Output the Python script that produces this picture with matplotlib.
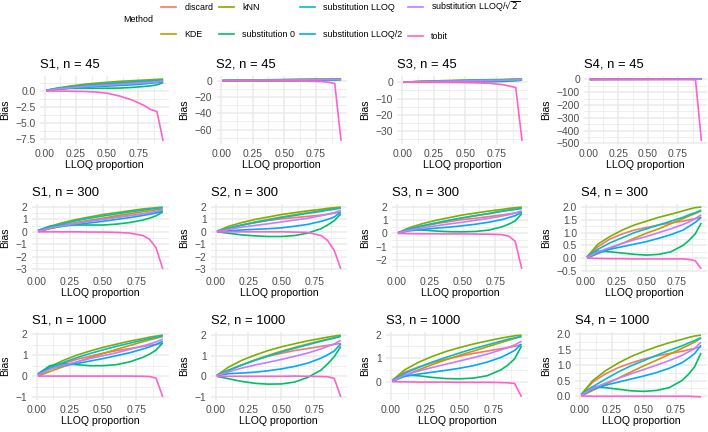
import matplotlib
matplotlib.use("Agg")
import matplotlib.pyplot as plt
from matplotlib.lines import Line2D

plt.rcParams['font.family'] = ['Liberation Sans', 'DejaVu Sans']

# methods in legend order and ggplot hue colours
methods = ['discard', 'KDE', 'kNN', 'substitution 0', 'substitution LLOQ',
           'substitution LLOQ/2', r'substitution LLOQ/$\sqrt{2}$', 'tobit']
colors = ['#F8766D', '#CD9600', '#7CAE00', '#00BE67', '#00BFC4',
          '#00A9FF', '#C77CFF', '#FF61CC']

lloq = [0.01, 0.1, 0.2, 0.3, 0.4, 0.5, 0.6, 0.7, 0.8, 0.85, 0.9, 0.95]

# bias per method (rows in the order of `methods`)
s1_n45 = [
    [0.05, 0.3, 0.5, 0.7, 0.85, 1.0, 1.1, 1.2, 1.3, 1.35, 1.4, 1.5],
    [0.0, 0.25, 0.45, 0.65, 0.85, 1.0, 1.15, 1.3, 1.45, 1.5, 1.55, 1.6],
    [0.1, 0.45, 0.75, 1.0, 1.2, 1.35, 1.5, 1.6, 1.7, 1.75, 1.8, 1.85],
    [0.1, 0.35, 0.4, 0.4, 0.4, 0.42, 0.45, 0.55, 0.7, 0.8, 0.95, 1.3],
    [0.1, 0.4, 0.62, 0.85, 1.02, 1.18, 1.3, 1.42, 1.55, 1.6, 1.65, 1.7],
    [0.05, 0.28, 0.42, 0.55, 0.65, 0.75, 0.85, 0.95, 1.1, 1.2, 1.3, 1.45],
    [0.05, 0.3, 0.48, 0.65, 0.8, 0.92, 1.02, 1.15, 1.28, 1.35, 1.42, 1.55],
    [0.0, -0.02, -0.05, -0.08, -0.15, -0.35, -0.8, -1.4, -2.3, -2.9, -3.2, -7.8],
]
s2_n45 = [
    [0.0, 0.3, 0.5, 0.7, 0.85, 1.0, 1.1, 1.2, 1.3, 1.35, 1.4, 1.5],
    [0.0, 0.3, 0.55, 0.75, 0.95, 1.1, 1.3, 1.45, 1.6, 1.7, 1.75, 1.85],
    [0.05, 0.45, 0.7, 0.95, 1.15, 1.3, 1.45, 1.6, 1.7, 1.8, 1.85, 1.9],
    [0.0, -0.1, -0.2, -0.3, -0.3, -0.3, -0.2, -0.05, 0.2, 0.45, 0.75, 1.3],
    [0.05, 0.3, 0.5, 0.7, 0.9, 1.05, 1.2, 1.35, 1.5, 1.6, 1.7, 1.8],
    [0.0, 0.1, 0.15, 0.2, 0.25, 0.3, 0.4, 0.55, 0.8, 0.95, 1.15, 1.5],
    [0.0, 0.2, 0.35, 0.5, 0.6, 0.75, 0.9, 1.05, 1.25, 1.35, 1.5, 1.65],
    [0.0, 0.0, 0.0, -0.05, -0.1, -0.2, -0.4, -0.7, -1.3, -2.0, -3.5, -74.0],
]
s3_n45 = [
    [0.05, 0.3, 0.5, 0.7, 0.85, 1.0, 1.1, 1.2, 1.3, 1.4, 1.5, 1.6],
    [0.0, 0.3, 0.5, 0.7, 0.9, 1.05, 1.2, 1.35, 1.5, 1.6, 1.7, 1.8],
    [0.05, 0.4, 0.7, 0.95, 1.15, 1.3, 1.45, 1.6, 1.7, 1.8, 1.9, 1.95],
    [0.05, 0.25, 0.22, 0.18, 0.15, 0.15, 0.2, 0.3, 0.5, 0.7, 0.9, 1.3],
    [0.05, 0.35, 0.55, 0.75, 0.92, 1.08, 1.22, 1.38, 1.52, 1.6, 1.7, 1.8],
    [0.03, 0.2, 0.3, 0.38, 0.45, 0.55, 0.65, 0.8, 1.0, 1.1, 1.25, 1.5],
    [0.03, 0.25, 0.4, 0.55, 0.68, 0.8, 0.92, 1.05, 1.22, 1.32, 1.45, 1.6],
    [0.0, 0.0, 0.0, -0.05, -0.1, -0.2, -0.4, -0.7, -1.5, -2.3, -3.3, -36.0],
]
s4_n45 = [
    [0.05, 0.45, 0.75, 0.95, 1.1, 1.2, 1.3, 1.38, 1.45, 1.5, 1.55, 1.6],
    [0.0, 0.18, 0.38, 0.58, 0.78, 0.98, 1.15, 1.35, 1.55, 1.65, 1.75, 1.85],
    [0.05, 0.55, 0.85, 1.1, 1.3, 1.45, 1.6, 1.72, 1.85, 1.92, 1.98, 2.0],
    [0.05, 0.28, 0.25, 0.2, 0.15, 0.12, 0.15, 0.25, 0.5, 0.7, 0.95, 1.38],
    [0.05, 0.35, 0.6, 0.8, 1.0, 1.15, 1.3, 1.45, 1.6, 1.7, 1.78, 1.88],
    [0.02, 0.2, 0.35, 0.45, 0.55, 0.65, 0.78, 0.92, 1.1, 1.25, 1.4, 1.6],
    [0.03, 0.25, 0.42, 0.58, 0.72, 0.85, 1.0, 1.15, 1.32, 1.42, 1.55, 1.7],
    [0.0, -0.1, -0.2, -0.3, -0.4, -0.5, -0.7, -1.0, -1.5, -2.0, -3.0, -480.0],
]
s1_n300 = [
    [0.05, 0.3, 0.55, 0.75, 0.92, 1.05, 1.2, 1.32, 1.45, 1.52, 1.6, 1.7],
    [0.0, 0.25, 0.5, 0.72, 0.92, 1.1, 1.3, 1.45, 1.62, 1.7, 1.78, 1.85],
    [0.1, 0.45, 0.75, 1.0, 1.2, 1.4, 1.55, 1.7, 1.85, 1.9, 1.95, 2.0],
    [0.1, 0.45, 0.55, 0.55, 0.55, 0.55, 0.62, 0.75, 0.95, 1.1, 1.3, 1.6],
    [0.1, 0.4, 0.65, 0.9, 1.1, 1.28, 1.45, 1.6, 1.75, 1.83, 1.9, 1.95],
    [0.05, 0.3, 0.45, 0.6, 0.72, 0.85, 1.0, 1.15, 1.32, 1.42, 1.52, 1.65],
    [0.05, 0.3, 0.5, 0.68, 0.85, 1.0, 1.15, 1.3, 1.45, 1.55, 1.65, 1.78],
    [0.0, 0.0, 0.0, 0.0, -0.02, -0.02, -0.05, -0.1, -0.3, -0.6, -1.3, -3.0],
]
s2_n300 = [
    [0.02, 0.3, 0.55, 0.75, 0.92, 1.05, 1.15, 1.25, 1.35, 1.42, 1.5, 1.6],
    [0.0, 0.3, 0.55, 0.8, 1.0, 1.2, 1.38, 1.55, 1.72, 1.8, 1.88, 1.95],
    [0.05, 0.45, 0.75, 1.0, 1.2, 1.4, 1.55, 1.7, 1.82, 1.9, 1.95, 2.0],
    [0.0, -0.12, -0.25, -0.33, -0.38, -0.38, -0.3, -0.1, 0.25, 0.55, 0.9, 1.45],
    [0.05, 0.3, 0.55, 0.75, 0.95, 1.15, 1.32, 1.5, 1.65, 1.75, 1.82, 1.92],
    [0.0, 0.08, 0.15, 0.2, 0.25, 0.32, 0.45, 0.6, 0.85, 1.0, 1.2, 1.6],
    [0.02, 0.2, 0.38, 0.52, 0.65, 0.8, 0.95, 1.1, 1.3, 1.42, 1.55, 1.75],
    [0.0, 0.0, 0.0, 0.0, 0.0, 0.0, -0.02, -0.05, -0.3, -0.7, -1.5, -3.0],
]
s3_n300 = [
    [0.05, 0.35, 0.55, 0.75, 0.9, 1.05, 1.15, 1.28, 1.4, 1.48, 1.55, 1.62],
    [0.0, 0.3, 0.55, 0.78, 1.0, 1.18, 1.35, 1.52, 1.7, 1.78, 1.85, 1.92],
    [0.05, 0.45, 0.75, 1.0, 1.2, 1.4, 1.55, 1.7, 1.82, 1.9, 1.95, 2.0],
    [0.05, 0.28, 0.25, 0.18, 0.13, 0.12, 0.15, 0.25, 0.5, 0.7, 0.95, 1.5],
    [0.05, 0.35, 0.6, 0.8, 1.0, 1.18, 1.35, 1.5, 1.68, 1.75, 1.82, 1.9],
    [0.03, 0.2, 0.3, 0.4, 0.48, 0.58, 0.7, 0.85, 1.05, 1.2, 1.35, 1.6],
    [0.03, 0.25, 0.42, 0.58, 0.72, 0.85, 1.0, 1.15, 1.32, 1.42, 1.55, 1.72],
    [0.0, -0.02, -0.03, -0.03, -0.04, -0.04, -0.05, -0.06, -0.1, -0.2, -0.6, -2.7],
]
s4_n300 = [
    [0.05, 0.45, 0.75, 0.95, 1.1, 1.2, 1.3, 1.38, 1.45, 1.5, 1.55, 1.6],
    [0.0, 0.18, 0.38, 0.58, 0.78, 0.98, 1.15, 1.35, 1.55, 1.65, 1.75, 1.85],
    [0.05, 0.55, 0.85, 1.1, 1.3, 1.45, 1.6, 1.72, 1.85, 1.92, 1.98, 2.0],
    [0.05, 0.28, 0.25, 0.2, 0.15, 0.12, 0.15, 0.25, 0.5, 0.7, 0.95, 1.38],
    [0.05, 0.35, 0.6, 0.8, 1.0, 1.15, 1.3, 1.45, 1.6, 1.7, 1.78, 1.88],
    [0.02, 0.2, 0.35, 0.45, 0.55, 0.65, 0.78, 0.92, 1.1, 1.25, 1.4, 1.6],
    [0.03, 0.25, 0.42, 0.58, 0.72, 0.85, 1.0, 1.15, 1.32, 1.42, 1.55, 1.7],
    [0.0, -0.01, -0.02, -0.02, -0.03, -0.03, -0.03, -0.03, -0.03, -0.05, -0.1, -0.42],
]
s1_n1000 = [
    [0.05, 0.35, 0.6, 0.8, 0.95, 1.1, 1.22, 1.32, 1.42, 1.48, 1.52, 1.58],
    [0.0, 0.22, 0.45, 0.67, 0.88, 1.08, 1.28, 1.47, 1.65, 1.74, 1.82, 1.9],
    [0.1, 0.45, 0.75, 1.0, 1.2, 1.38, 1.53, 1.68, 1.8, 1.87, 1.92, 1.97],
    [0.1, 0.5, 0.6, 0.55, 0.5, 0.5, 0.55, 0.68, 0.9, 1.05, 1.25, 1.6],
    [0.1, 0.4, 0.65, 0.88, 1.08, 1.26, 1.43, 1.58, 1.73, 1.8, 1.87, 1.95],
    [0.05, 0.35, 0.5, 0.6, 0.72, 0.84, 0.98, 1.12, 1.3, 1.4, 1.52, 1.68],
    [0.05, 0.33, 0.52, 0.68, 0.84, 0.98, 1.12, 1.28, 1.45, 1.54, 1.64, 1.78],
    [0.0, 0.0, 0.0, 0.0, 0.0, 0.0, 0.0, 0.0, -0.01, -0.02, -0.1, -1.0],
]
s2_n1000 = [
    [0.02, 0.3, 0.55, 0.78, 0.98, 1.12, 1.25, 1.35, 1.45, 1.5, 1.55, 1.6],
    [0.0, 0.28, 0.55, 0.8, 1.02, 1.22, 1.4, 1.57, 1.73, 1.8, 1.87, 1.94],
    [0.05, 0.45, 0.78, 1.03, 1.25, 1.43, 1.58, 1.72, 1.84, 1.9, 1.95, 2.0],
    [0.0, -0.12, -0.25, -0.34, -0.38, -0.37, -0.28, -0.05, 0.3, 0.6, 0.95, 1.45],
    [0.05, 0.3, 0.55, 0.78, 0.98, 1.18, 1.36, 1.53, 1.7, 1.78, 1.85, 1.95],
    [0.03, 0.13, 0.16, 0.2, 0.27, 0.36, 0.48, 0.64, 0.88, 1.04, 1.23, 1.58],
    [0.03, 0.22, 0.4, 0.55, 0.68, 0.82, 0.97, 1.13, 1.33, 1.45, 1.57, 1.75],
    [0.0, 0.0, 0.0, 0.0, 0.0, 0.0, 0.01, 0.0, -0.01, -0.02, -0.1, -1.0],
]
s3_n1000 = [
    [0.05, 0.4, 0.62, 0.8, 0.95, 1.08, 1.2, 1.3, 1.4, 1.45, 1.5, 1.58],
    [0.0, 0.25, 0.5, 0.72, 0.93, 1.12, 1.3, 1.48, 1.66, 1.75, 1.84, 1.93],
    [0.05, 0.5, 0.82, 1.07, 1.28, 1.45, 1.6, 1.73, 1.85, 1.9, 1.95, 1.98],
    [0.05, 0.28, 0.25, 0.18, 0.13, 0.12, 0.15, 0.25, 0.5, 0.7, 0.97, 1.52],
    [0.05, 0.35, 0.6, 0.83, 1.03, 1.22, 1.4, 1.56, 1.72, 1.8, 1.86, 1.92],
    [0.03, 0.22, 0.32, 0.4, 0.48, 0.57, 0.68, 0.83, 1.03, 1.17, 1.33, 1.6],
    [0.03, 0.28, 0.45, 0.6, 0.74, 0.88, 1.02, 1.17, 1.35, 1.45, 1.56, 1.72],
    [0.0, -0.01, -0.02, -0.02, -0.02, -0.03, -0.03, -0.03, -0.04, -0.05, -0.08, -0.65],
]
s4_n1000 = [
    [0.05, 0.45, 0.72, 0.92, 1.07, 1.2, 1.3, 1.38, 1.45, 1.5, 1.55, 1.6],
    [0.0, 0.18, 0.38, 0.58, 0.78, 0.98, 1.16, 1.35, 1.55, 1.65, 1.75, 1.88],
    [0.05, 0.5, 0.82, 1.07, 1.28, 1.45, 1.6, 1.73, 1.84, 1.9, 1.95, 1.98],
    [0.05, 0.3, 0.27, 0.22, 0.17, 0.15, 0.18, 0.27, 0.5, 0.7, 0.95, 1.4],
    [0.05, 0.3, 0.55, 0.78, 0.98, 1.15, 1.32, 1.48, 1.63, 1.72, 1.8, 1.9],
    [0.02, 0.22, 0.35, 0.45, 0.55, 0.65, 0.76, 0.9, 1.08, 1.22, 1.38, 1.65],
    [0.03, 0.25, 0.42, 0.57, 0.72, 0.86, 1.0, 1.15, 1.32, 1.43, 1.55, 1.75],
    [0.0, -0.01, -0.01, -0.01, -0.01, -0.01, -0.01, -0.01, -0.01, -0.01, -0.02, -0.03],
]

titles = [['S1, n = 45', 'S2, n = 45', 'S3, n = 45', 'S4, n = 45'],
          ['S1, n = 300', 'S2, n = 300', 'S3, n = 300', 'S4, n = 300'],
          ['S1, n = 1000', 'S2, n = 1000', 'S3, n = 1000', 'S4, n = 1000']]
panels = [[s1_n45, s2_n45, s3_n45, s4_n45],
          [s1_n300, s2_n300, s3_n300, s4_n300],
          [s1_n1000, s2_n1000, s3_n1000, s4_n1000]]
yticks = [[[-7.5, -5.0, -2.5, 0.0], [-60, -40, -20, 0], [-30, -20, -10, 0],
           [-500, -400, -300, -200, -100, 0]],
          [[-3, -2, -1, 0, 1, 2], [-3, -2, -1, 0, 1, 2], [-2, -1, 0, 1, 2],
           [-0.5, 0.0, 0.5, 1.0, 1.5, 2.0]],
          [[-1, 0, 1, 2], [-1, 0, 1, 2], [0, 1, 2],
           [0.0, 0.5, 1.0, 1.5, 2.0]]]
ydec = [[1, 0, 0, 0], [0, 0, 0, 1], [0, 0, 0, 1]]
xticks = [0.0, 0.25, 0.5, 0.75]

W, H = 708, 432
fig = plt.figure(figsize=(W / 100, H / 100), dpi=100)

bias_x = [5, 184, 365, 546]
right_x = [169, 347, 528, 707]
top_y = [76, 204, 332]
ph = 68
grid_c = '#EBEBEB'
tick_c = '#4D4D4D'

axes = []
for r in range(3):
    for c in range(4):
        ax = fig.add_axes([0.1, 0.1, 0.2, 0.2])
        data = panels[r][c]
        for vals, col in zip(data, colors):
            ax.plot(lloq, vals, color=col, lw=1.2, solid_capstyle='butt')
        allv = [v for s in data for v in s]
        lo, hi = min(allv), max(allv)
        pad = (hi - lo) * 0.05
        yt = yticks[r][c]
        step = yt[1] - yt[0]
        ax.set_yticks(yt)
        ax.set_yticklabels([f'{v:.{ydec[r][c]}f}'.replace('-', '\u2212') for v in yt])
        ax.set_yticks([yt[0] - step / 2] + [v + step / 2 for v in yt], minor=True)
        ax.set_ylim(lo - pad, hi + pad)
        ax.set_xticks(xticks)
        ax.set_xticklabels([f'{v:.2f}' for v in xticks])
        ax.set_xticks([0.125, 0.375, 0.625, 0.875], minor=True)
        ax.set_xlim(0.01 - 0.047, 0.95 + 0.047)
        ax.grid(True, which='major', color=grid_c, lw=1.1)
        ax.grid(True, which='minor', color=grid_c, lw=0.55)
        ax.set_axisbelow(True)
        for s in ax.spines.values():
            s.set_visible(False)
        ax.tick_params(which='both', length=0)
        ax.tick_params(axis='y', labelsize=7.4, labelcolor=tick_c, pad=3)
        ax.tick_params(axis='x', labelsize=7.4, labelcolor=tick_c, pad=3.5)
        ax.set_xlabel('LLOQ proportion', fontsize=7.6, labelpad=0.5)
        ax.set_title(titles[r][c], loc='left', fontsize=9.4, pad=6)
        axes.append((r, c, ax))

fig.canvas.draw()
renderer = fig.canvas.get_renderer()
for r, c, ax in axes:
    tw = max(t.get_window_extent(renderer).width for t in ax.get_yticklabels())
    left = bias_x[c] + 6 + 5 + tw + 4
    ax.set_position([left / W, 1 - (top_y[r] + ph) / H,
                     (right_x[c] - left) / W, ph / H])
    fig.text(bias_x[c] / W, 1 - (top_y[r] + ph / 2) / H, 'Bias',
             rotation=90, ha='center', va='center', fontsize=7.6)

handles = [Line2D([], [], color=col, lw=1.2) for col in colors]
fig.legend(handles, methods, loc='upper left',
           bbox_to_anchor=(156 / W, 1.0 + 6 / H),
           ncol=4, frameon=False, fontsize=6.4, borderpad=0.1,
           handlelength=1.7, handletextpad=0.9, columnspacing=0.6,
           labelspacing=2.0)
fig.text(123 / W, 1 - 20 / H, 'Method', va='center', ha='left', fontsize=6.4)

fig.savefig('out.png', dpi=100)
